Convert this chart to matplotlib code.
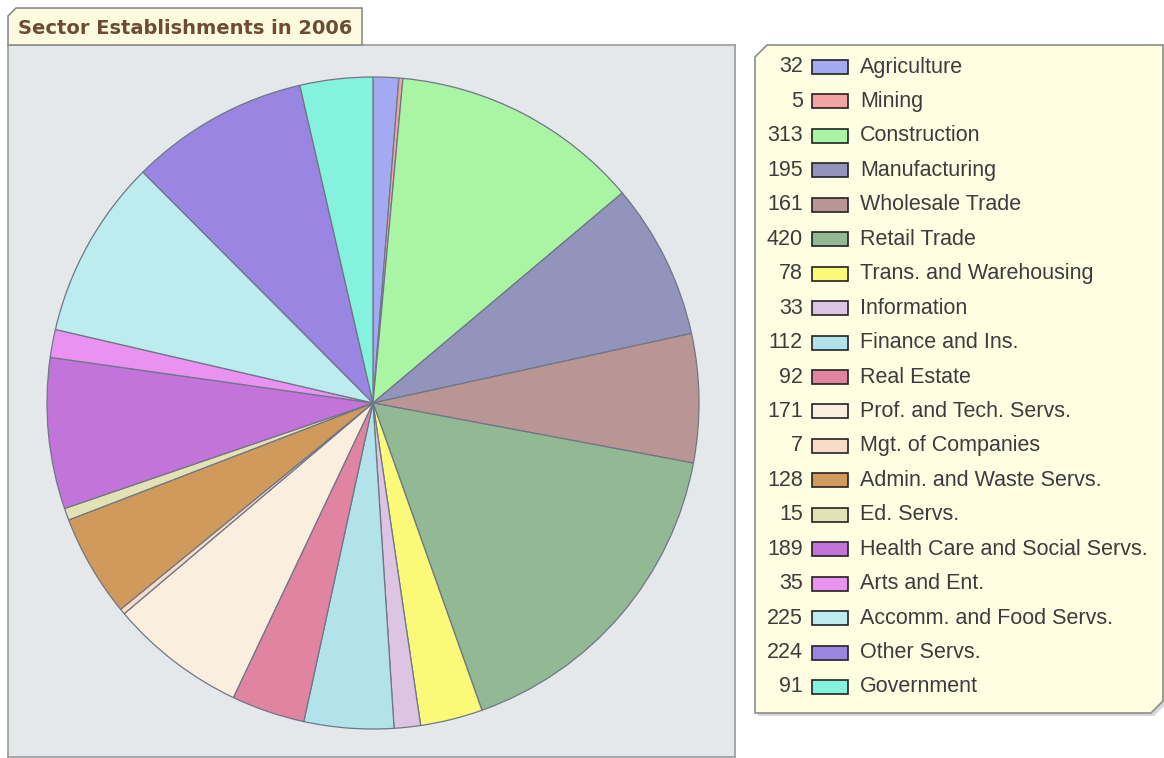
import matplotlib
matplotlib.use("Agg")
import matplotlib.pyplot as plt
from matplotlib.patches import Polygon, Rectangle

# sector counts, 2006
sectors = ["Agriculture", "Mining", "Construction", "Manufacturing",
           "Wholesale Trade", "Retail Trade", "Trans. and Warehousing",
           "Information", "Finance and Ins.", "Real Estate",
           "Prof. and Tech. Servs.", "Mgt. of Companies",
           "Admin. and Waste Servs.", "Ed. Servs.",
           "Health Care and Social Servs.", "Arts and Ent.",
           "Accomm. and Food Servs.", "Other Servs.", "Government"]
counts = [32, 5, 313, 195, 161, 420, 78, 33, 112, 92, 171, 7, 128, 15,
          189, 35, 225, 224, 91]
colors = ["#a4aaf2", "#f2a4a4", "#aaf5a4", "#9294bc", "#b99694", "#92b994",
          "#fafa78", "#dcc4e2", "#b2e2ea", "#e084a2", "#faeedf", "#f8dcc6",
          "#d09a5c", "#e2e2b4", "#c274da", "#ea92f2", "#bcecee", "#9a86e2",
          "#84f2dc"]
title = "Sector Establishments in 2006"

W, H = 1164, 758
fig = plt.figure(figsize=(W / 100, H / 100), dpi=100)


def px(x, y):
    # pixel coords (top-left origin) -> figure fraction
    return (x / W, 1 - y / H)


def box(x0, y0, x1, y1):
    return [x0 / W, 1 - y1 / H, (x1 - x0) / W, (y1 - y0) / H]


# grey plot panel
panel = fig.add_axes(box(8, 45, 735, 757))
panel.set_facecolor("#e5e8ea")
panel.set_xticks([])
panel.set_yticks([])
for s in panel.spines.values():
    s.set_color("#9a9a9a")
    s.set_linewidth(1.2)

# title tab
tab = [px(8, 16), px(16, 8), px(362, 8), px(362, 45), px(8, 45)]
fig.patches.append(Polygon(tab, closed=True, transform=fig.transFigure,
                           facecolor="#fcfadf", edgecolor="#8c8c8c", lw=1.2))
fig.text(18 / W, 1 - 28 / H, title, ha="left", va="center",
         fontsize=14, fontweight="bold", color="#6e4c34",
         family="DejaVu Sans")

# pie
cx, cy, r = 373, 403, 326
ax = fig.add_axes(box(cx - r, cy - r, cx + r, cy + r))
ax.pie(counts, colors=colors, startangle=90, counterclock=False,
       wedgeprops=dict(edgecolor="#6f7686", linewidth=0.9))
ax.set_xlim(-1, 1)
ax.set_ylim(-1, 1)
ax.set_aspect("equal")
ax.axis("off")

# legend box with clipped corners
lx0, ly0, lx1, ly1, c = 755, 45, 1163, 713, 12
shape = [px(lx0, ly0 + c), px(lx0 + c, ly0), px(lx1, ly0),
         px(lx1, ly1 - c), px(lx1 - c, ly1), px(lx0, ly1)]
shadow = [(x + 3 / W, y - 3 / H) for x, y in shape]
fig.patches.append(Polygon(shadow, closed=True, transform=fig.transFigure,
                           facecolor="#d8d8d8", edgecolor="none"))
fig.patches.append(Polygon(shape, closed=True, transform=fig.transFigure,
                           facecolor="#fffee2", edgecolor="#8c8c8c", lw=1.2))

row0, step = 67, (687 - 67) / (len(sectors) - 1)
for i, (name, n, col) in enumerate(zip(sectors, counts, colors)):
    y = row0 + i * step
    fig.text(803 / W, 1 - y / H, str(n), ha="right", va="center",
             fontsize=15.5, color="#3c3c3c", family="Liberation Sans")
    fig.patches.append(Rectangle(px(812, y + 7), 36 / W, 14 / H,
                                 transform=fig.transFigure, facecolor=col,
                                 edgecolor="#222222", lw=1.2))
    fig.text(860 / W, 1 - y / H, name, ha="left", va="center",
             fontsize=15.5, color="#3c3c3c", family="Liberation Sans")

fig.savefig("out.png", dpi=100)
